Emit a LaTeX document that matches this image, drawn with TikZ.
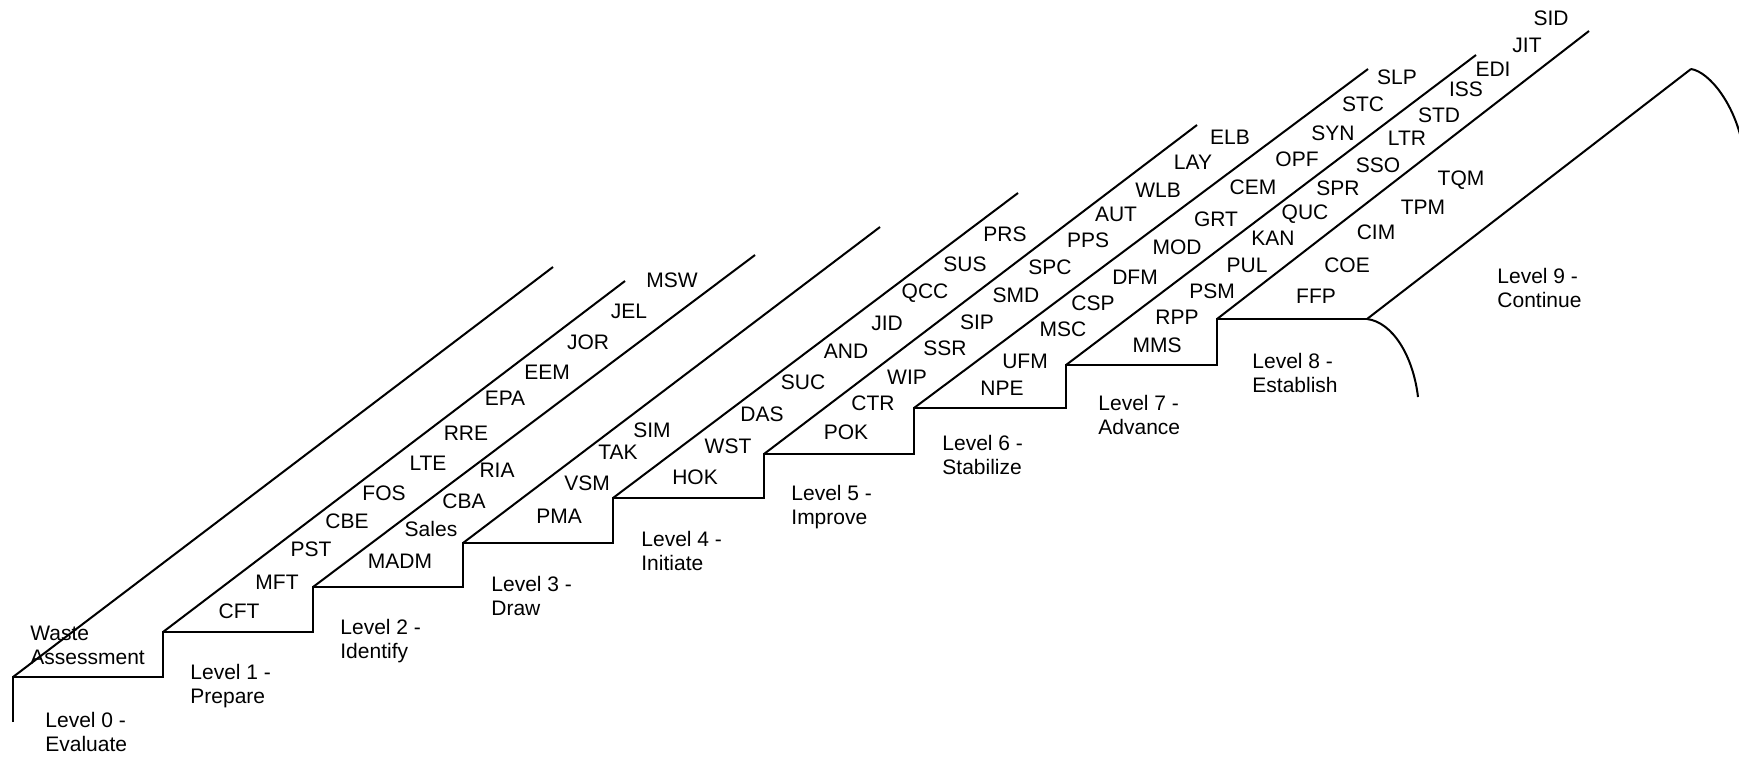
\documentclass[tikz,border=0pt]{standalone}
\usepackage{fontspec}
\setmainfont{Liberation Sans}
\usetikzlibrary{positioning,calc}

\begin{document}
\begin{tikzpicture}[x=0.5pt, y=-0.5pt,
    stair/.style={line width=1pt, line join=miter},
    tool/.style={font=\fontsize{10.5}{12}\selectfont, inner sep=0pt},
    lvl/.style={font=\fontsize{10.5}{12}\selectfont, align=left, anchor=west, inner sep=0pt}
  ]
  \useasboundingbox (0,0) rectangle (1739,757);

  % ===== Staircase: step corners, rising lines, end curves =====
  \coordinate (base) at (13,722);
  \foreach \i/\sx/\sy in {0/13/677, 1/163/632, 2/313/587, 3/463/543, 4/613/498,
                          5/764/454, 6/914/408, 7/1066/365, 8/1217/319, 9/1367/319}
    \coordinate (s\i) at (\sx,\sy);
  \foreach \i/\tx/\ty in {0/553/267, 1/625/281, 2/755/255, 3/880/227, 4/1018/193,
                          5/1197/125, 6/1368/69, 7/1476/55, 8/1589/31, 9/1691/69}
    \coordinate (t\i) at (\tx,\ty);

  \draw[stair] (base) -- (s0) -| (s1) -| (s2) -| (s3) -| (s4) -| (s5) -| (s6) -| (s7) -| (s8) -- (s9);
  \foreach \i in {0,...,9}
    \draw[stair] (s\i) -- (t\i);
  \draw[stair] (s9) .. controls (1392,322) and (1413,355) .. (1418,397);
  \draw[stair] (t9) .. controls (1710,72) and (1736,106) .. (1743,148);

  % ===== Level labels under the steps =====
  \node[lvl] (waste) at (30,645) {Waste\\Assessment};
  \foreach \i/\lx/\ly/\word in {0/45/732/Evaluate, 1/190/686/Prepare, 2/340/641/Identify,
                                3/491/596/Draw, 4/641/551/Initiate, 5/791/507/Improve,
                                6/942/455/Stabilize, 7/1098/415/Advance, 8/1252/373/Establish,
                                9/1497/288/Continue}
    \node[lvl] (lvl\i) at (\lx,\ly) {Level \i{} -\\\word};

  % ===== Tool abbreviations along the bands =====
  \foreach \t/\px/\py in {CFT/239/611, MFT/277/582, PST/311/549, CBE/347/521, FOS/384/493,
      LTE/428/463, RRE/466/433, EPA/505/398, EEM/547/372, JOR/588/342, JEL/629/311, MSW/672/280,
      MADM/400/561, Sales/431/529, CBA/464/501, RIA/497/470,
      PMA/559/516, VSM/587/483, TAK/618/452, SIM/652/430,
      HOK/695/477, WST/728/446, DAS/762/414, SUC/803/382, AND/846/351, JID/887/323,
      QCC/925/293, SUS/965/264, PRS/1005/234,
      POK/846/432, CTR/873/403, WIP/907/377, SSR/945/348, SIP/977/322, SMD/1016/295,
      SPC/1050/267, PPS/1088/240, AUT/1116/214, WLB/1158/190, LAY/1193/162, ELB/1230/137,
      NPE/1002/388, UFM/1025/361, MSC/1063/329, CSP/1093/303, DFM/1135/277, MOD/1177/247,
      GRT/1216/219, CEM/1253/187, OPF/1297/159, SYN/1333/133, STC/1363/104, SLP/1397/77,
      MMS/1157/345, RPP/1177/317, PSM/1212/291, PUL/1247/265, KAN/1273/238, QUC/1305/214,
      SPR/1338/188, SSO/1378/165, LTR/1407/138, STD/1439/115, ISS/1466/89, EDI/1493/69,
      JIT/1527/45, SID/1551/18,
      FFP/1316/296, COE/1347/265, CIM/1376/232, TPM/1423/207, TQM/1461/180}
    \node[tool] (\t) at (\px,\py) {\t};
\end{tikzpicture}
\end{document}
